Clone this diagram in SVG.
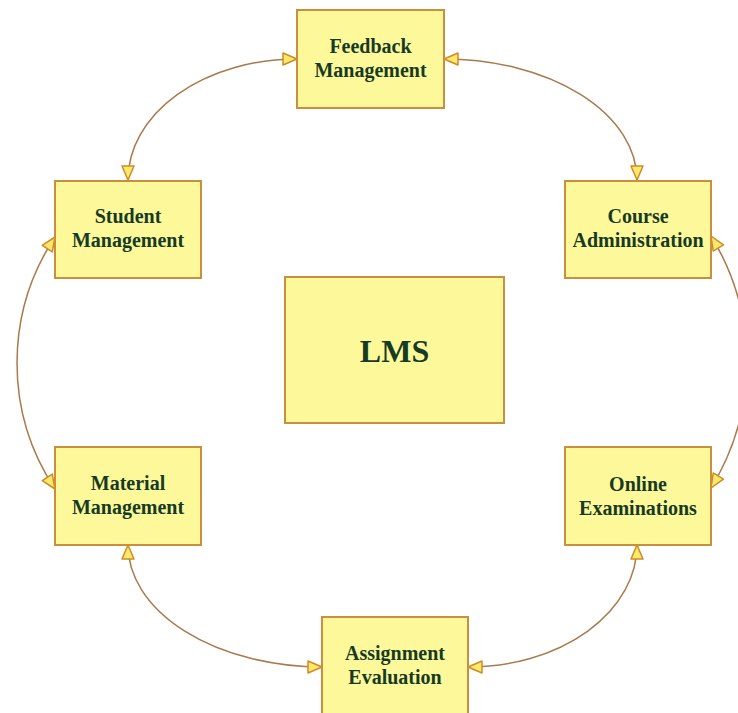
<svg xmlns="http://www.w3.org/2000/svg" width="738" height="713" viewBox="0 0 738 713">
<style>
.box{fill:#fdf99a;stroke:#c8903e;stroke-width:2}
.lbl{font-family:"Liberation Serif","Times New Roman",serif;font-weight:bold;font-size:20px;fill:#173a24;text-anchor:middle}
.big{font-size:32px}
.conn{fill:none;stroke:#a87a4c;stroke-width:1.5;marker-start:url(#ah);marker-end:url(#ah)}
</style>
<defs>
<marker id="ah" markerUnits="userSpaceOnUse" markerWidth="16" markerHeight="16" viewBox="-1 -8 16 16" refX="14" refY="0" orient="auto-start-reverse">
<path d="M0,-6 L14,0 L0,6 Z" fill="#fde96a" stroke="#d08a24" stroke-width="1.5" stroke-linejoin="round"/>
</marker>
</defs>
<rect width="738" height="713" fill="#ffffff"/>
<g id="connectors">
<path class="conn" d="M128,180 A169,121 0 0 1 297,59"/>
<path class="conn" d="M444,59 A193,121 0 0 1 637,180"/>
<path class="conn" d="M711,236 A240,240 0 0 1 711,488"/>
<path class="conn" d="M55,237 A228,228 0 0 0 55,489"/>
<path class="conn" d="M128,545 A195,122 0 0 0 322,667"/>
<path class="conn" d="M637,545 A169,122 0 0 1 468,667"/>
</g>
<g id="feedback">
<rect class="box" x="297" y="10" width="147" height="98"/>
<text class="lbl" x="370.5" y="53">Feedback</text>
<text class="lbl" x="370.5" y="77">Management</text>
</g>
<g id="course">
<rect class="box" x="565" y="181" width="146" height="97"/>
<text class="lbl" x="638" y="223">Course</text>
<text class="lbl" x="638" y="247">Administration</text>
</g>
<g id="student">
<rect class="box" x="55" y="181" width="146" height="97"/>
<text class="lbl" x="128" y="223">Student</text>
<text class="lbl" x="128" y="247">Management</text>
</g>
<g id="lms">
<rect class="box" x="285" y="277" width="219" height="146"/>
<text class="lbl big" x="394.5" y="362">LMS</text>
</g>
<g id="material">
<rect class="box" x="55" y="447" width="146" height="98"/>
<text class="lbl" x="128" y="490">Material</text>
<text class="lbl" x="128" y="514">Management</text>
</g>
<g id="online">
<rect class="box" x="565" y="447" width="146" height="98"/>
<text class="lbl" x="638" y="491">Online</text>
<text class="lbl" x="638" y="515">Examinations</text>
</g>
<g id="assignment">
<rect class="box" x="322" y="617" width="146" height="98"/>
<text class="lbl" x="395" y="660">Assignment</text>
<text class="lbl" x="395" y="684">Evaluation</text>
</g>
</svg>
